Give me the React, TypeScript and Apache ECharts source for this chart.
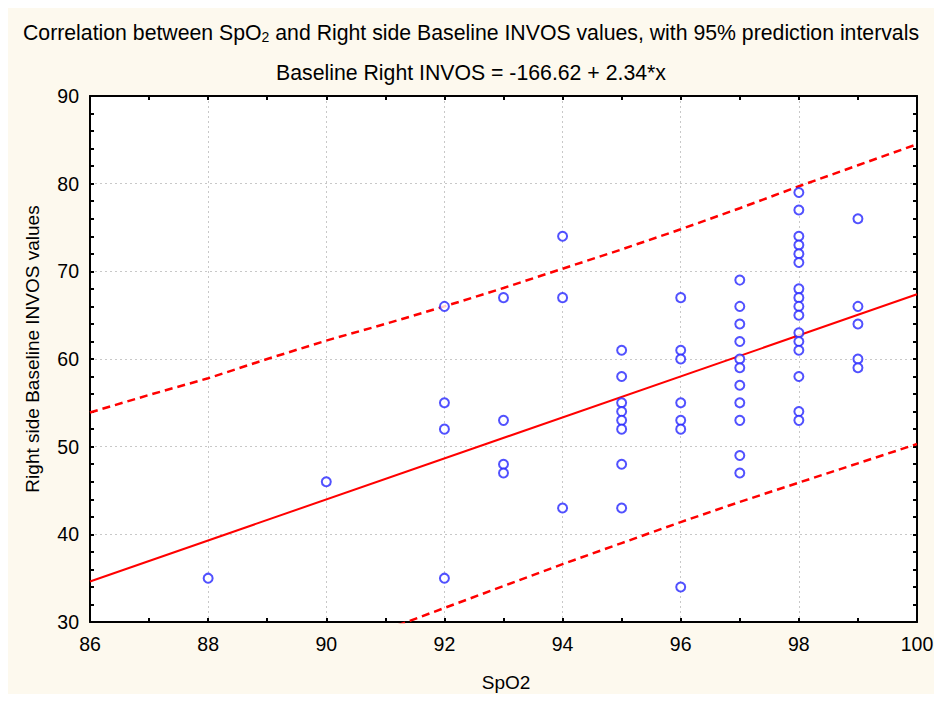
import React, { useEffect, useRef } from "react";
import * as echarts from "echarts";

// Observed points (SpO2, Right side Baseline INVOS)
const spo2: number[] = [
  88,
  90,
  92, 92, 92, 92,
  93, 93, 93, 93,
  94, 94, 94,
  95, 95, 95, 95, 95, 95, 95, 95,
  96, 96, 96, 96, 96, 96, 96,
  97, 97, 97, 97, 97, 97, 97, 97, 97, 97, 97,
  98, 98, 98, 98, 98, 98, 98, 98, 98, 98, 98, 98, 98, 98, 98, 98,
  99, 99, 99, 99, 99,
];
const invos: number[] = [
  35,
  46,
  66, 55, 52, 35,
  67, 53, 48, 47,
  74, 67, 43,
  61, 58, 55, 54, 53, 52, 48, 43,
  67, 61, 60, 55, 53, 52, 34,
  69, 66, 64, 62, 60, 59, 57, 55, 53, 49, 47,
  79, 77, 74, 73, 72, 71, 68, 67, 66, 65, 63, 62, 61, 58, 54, 53,
  76, 66, 64, 60, 59,
];

// Fitted line endpoints: Baseline Right INVOS = -166.62 + 2.34*x
const fitX: number[] = [86, 100];
const fitY: number[] = [34.62, 67.38];

// 95% prediction interval bands
const upperX: number[] = [86, 87, 88, 89, 90, 91, 92, 93, 94, 95, 96, 97, 98, 99, 100];
const upperY: number[] = [53.9, 55.9, 57.8, 60.0, 62.1, 64.0, 66.0, 68.1, 70.3, 72.5, 74.8, 77.2, 79.7, 82.1, 84.5];
const lowerX: number[] = [91, 92, 93, 94, 95, 96, 97, 98, 99, 100];
const lowerY: number[] = [29.1, 31.6, 34.1, 36.6, 39.0, 41.4, 43.7, 45.9, 48.1, 50.3];

const xTicks = { min: 86, max: 100, interval: 2 };
const yTicks = { min: 30, max: 90, interval: 10 };

const FONT = "Liberation Sans, Arial, sans-serif";
const LABEL_SIZE = 19.5;
const NAME_SIZE = 19;
const TITLE_SIZE = 21.25;

export default function App() {
  const ref = useRef<HTMLDivElement>(null);
  useEffect(() => {
    if (!ref.current) return;
    const chart = echarts.init(ref.current, undefined, { renderer: "svg" });
    const zip = (a: number[], b: number[]) => a.map((v, i) => [v, b[i]]);
    const tickCommon = {
      axisLine: { show: true, onZero: false, lineStyle: { color: "#000", width: 2 } },
      axisTick: { show: true, inside: true, length: 4, lineStyle: { color: "#000", width: 2 } },
      minorTick: { show: true, length: 4, lineStyle: { color: "#000", width: 2 } },
    };
    const option: any = {
      animation: false,
      backgroundColor: "#fdf9ee",
      textStyle: { fontFamily: FONT },
      title: [
        {
          text: "Correlation between SpO{sub|2} and Right side Baseline INVOS values, with 95% prediction intervals",
          left: "center",
          top: 16,
          textStyle: {
            fontFamily: FONT,
            fontSize: TITLE_SIZE,
            fontWeight: "normal",
            color: "#000",
            rich: {
              sub: { fontSize: 14, verticalAlign: "bottom", padding: [9, 0, 0, 0], fontFamily: FONT, color: "#000" },
            },
          },
        },
        {
          text: "Baseline Right INVOS = -166.62 + 2.34*x",
          left: "center",
          top: 57,
          textStyle: { fontFamily: FONT, fontSize: TITLE_SIZE, fontWeight: "normal", color: "#000" },
        },
      ],
      grid: {
        left: 90,
        right: 25,
        top: 96,
        bottom: 80,
        show: true,
        backgroundColor: "#ffffff",
        borderColor: "#000",
        borderWidth: 0,
      },
      xAxis: [
        {
          type: "value",
          ...xTicks,
          position: "bottom",
          name: "SpO2",
          nameLocation: "middle",
          nameGap: 51,
          nameTextStyle: { fontFamily: FONT, fontSize: NAME_SIZE, color: "#000", padding: [0, 0, 0, 5] },
          axisLabel: { fontFamily: FONT, fontSize: LABEL_SIZE, color: "#000", margin: 12 },
          splitLine: { show: true, lineStyle: { color: "#c8c8c8", type: [2, 3], width: 1 } },
          ...tickCommon,
          minorTick: { ...tickCommon.minorTick, splitNumber: 2 },
        },
        {
          type: "value",
          ...xTicks,
          position: "top",
          axisLabel: { show: false },
          splitLine: { show: false },
          ...tickCommon,
          minorTick: { ...tickCommon.minorTick, splitNumber: 2 },
        },
      ],
      yAxis: [
        {
          type: "value",
          ...yTicks,
          position: "left",
          name: "Right side Baseline INVOS values",
          nameLocation: "middle",
          nameGap: 48,
          nameTextStyle: { fontFamily: FONT, fontSize: NAME_SIZE, color: "#000", padding: [0, 0, 0, 20] },
          axisLabel: { fontFamily: FONT, fontSize: LABEL_SIZE, color: "#000", margin: 11 },
          splitLine: { show: true, lineStyle: { color: "#c8c8c8", type: [2, 3], width: 1 } },
          ...tickCommon,
          minorTick: { ...tickCommon.minorTick, splitNumber: 5 },
        },
        {
          type: "value",
          ...yTicks,
          position: "right",
          axisLabel: { show: false },
          splitLine: { show: false },
          ...tickCommon,
          minorTick: { ...tickCommon.minorTick, splitNumber: 5 },
        },
      ],
      series: [
        {
          type: "line",
          data: zip(upperX, upperY),
          showSymbol: false,
          symbol: "none",
          clip: true,
          lineStyle: { color: "#ff0000", width: 2.5, type: [8, 5] },
          z: 3,
        },
        {
          type: "line",
          data: zip(lowerX, lowerY),
          showSymbol: false,
          symbol: "none",
          clip: true,
          lineStyle: { color: "#ff0000", width: 2.5, type: [8, 5] },
          z: 3,
        },
        {
          type: "line",
          data: zip(fitX, fitY),
          showSymbol: false,
          symbol: "none",
          clip: true,
          lineStyle: { color: "#ff0000", width: 2 },
          z: 3,
        },
        {
          type: "scatter",
          data: zip(spo2, invos),
          symbol: "emptyCircle",
          symbolSize: 9,
          itemStyle: { color: "#2626ff", borderColor: "#2626ff", borderWidth: 1 },
          z: 4,
        },
      ],
    };
    chart.setOption(option);
    return () => chart.dispose();
  }, []);
  return <div ref={ref} style={{ width: 942, height: 702, margin: -8 }} />;
}
